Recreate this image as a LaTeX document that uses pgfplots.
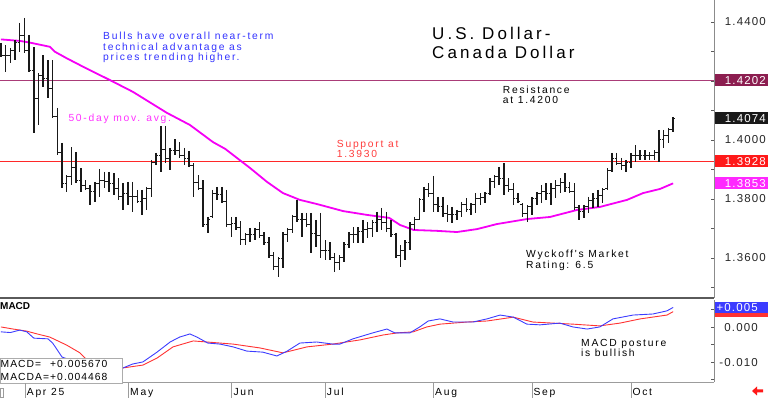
\documentclass[border=0pt]{standalone}
\usepackage{fontspec}
\setmainfont{Liberation Sans}
\newfontfamily\lsfont{Liberation Sans}[LetterSpace=17]
\newfontfamily\lbfont{Liberation Sans}[LetterSpace=10]
\newfontfamily\ttlfont{Liberation Sans}[LetterSpace=18]
\usepackage{pgfplots}
\usepackage{pgfplotstable}
\pgfplotsset{compat=1.18}
\definecolor{barc}{RGB}{25,25,25}
\definecolor{magc}{RGB}{245,0,245}
\definecolor{magt}{RGB}{255,50,255}
\definecolor{bluet}{RGB}{50,50,255}
\definecolor{redt}{RGB}{255,60,60}
\definecolor{suppline}{RGB}{255,40,40}
\definecolor{resline}{RGB}{170,60,120}
\definecolor{maroonb}{RGB}{140,30,80}
\definecolor{redb}{RGB}{255,25,25}
\definecolor{magb}{RGB}{255,40,255}
\definecolor{macdb}{RGB}{60,60,255}
\definecolor{macdr}{RGB}{255,50,50}
\definecolor{axc}{RGB}{90,90,90}
\newcommand\smallf{\lsfont\fontsize{10.3}{11}\selectfont}
\newcommand\labf{\lbfont\fontsize{11.5}{12}\selectfont}
\pgfdeclareplotmark{otick}{\pgfpathmoveto{\pgfqpoint{-2.2pt}{0pt}}\pgfpathlineto{\pgfqpoint{0pt}{0pt}}\pgfusepathqstroke}
\pgfdeclareplotmark{ctick}{\pgfpathmoveto{\pgfqpoint{0pt}{0pt}}\pgfpathlineto{\pgfqpoint{2.2pt}{0pt}}\pgfusepathqstroke}

\pgfplotstableread{
k h l o c
0 1.4329 1.4281 1.4305 1.4288
1 1.4322 1.4231 1.4288 1.4286
2 1.4312 1.4261 1.4286 1.4305
3 1.4339 1.4271 1.4305 1.4332
4 1.4397 1.4298 1.4332 1.4354
5 1.4414 1.4295 1.4354 1.4302
6 1.4356 1.4231 1.4302 1.4237
7 1.4315 1.4024 1.4237 1.4139
8 1.4227 1.4051 1.4139 1.4220
9 1.4288 1.4180 1.4220 1.4207
10 1.4271 1.4142 1.4207 1.4173
11 1.4271 1.4075 1.4173 1.4081
12 1.4109 1.3949 1.4081 1.3956
13 1.3990 1.3837 1.3956 1.3853
14 1.3881 1.3824 1.3853 1.3875
15 1.3976 1.3847 1.3875 1.3907
16 1.3959 1.3854 1.3907 1.3864
17 1.3905 1.3824 1.3864 1.3847
18 1.3864 1.3830 1.3847 1.3837
19 1.3847 1.3780 1.3837 1.3824
20 1.3858 1.3790 1.3824 1.3851
21 1.3902 1.3807 1.3851 1.3864
22 1.3892 1.3837 1.3864 1.3858
23 1.3892 1.3824 1.3858 1.3851
24 1.3888 1.3814 1.3851 1.3834
25 1.3871 1.3797 1.3834 1.3809
26 1.3854 1.3763 1.3809 1.3819
27 1.3858 1.3780 1.3819 1.3807
28 1.3858 1.3756 1.3807 1.3809
29 1.3831 1.3786 1.3809 1.3793
30 1.3831 1.3746 1.3793 1.3802
31 1.3841 1.3763 1.3802 1.3834
32 1.3932 1.3807 1.3834 1.3925
33 1.3956 1.3915 1.3925 1.3949
34 1.4048 1.3892 1.3949 1.3968
35 1.4048 1.3922 1.3968 1.3936
36 1.3973 1.3898 1.3936 1.3966
37 1.4003 1.3949 1.3966 1.3966
38 1.3993 1.3939 1.3966 1.3946
39 1.3973 1.3915 1.3946 1.3936
40 1.3963 1.3909 1.3936 1.3915
41 1.3922 1.3807 1.3915 1.3856
42 1.3881 1.3831 1.3856 1.3837
43 1.3864 1.3705 1.3837 1.3712
44 1.3739 1.3685 1.3712 1.3732
45 1.3831 1.3736 1.3739 1.3819
46 1.3841 1.3797 1.3819 1.3814
47 1.3841 1.3786 1.3814 1.3793
48 1.3831 1.3705 1.3793 1.3712
49 1.3739 1.3671 1.3712 1.3717
50 1.3739 1.3695 1.3717 1.3702
51 1.3725 1.3644 1.3702 1.3664
52 1.3685 1.3644 1.3664 1.3678
53 1.3702 1.3654 1.3678 1.3681
54 1.3702 1.3661 1.3681 1.3695
55 1.3722 1.3668 1.3695 1.3675
56 1.3688 1.3644 1.3675 1.3651
57 1.3671 1.3600 1.3651 1.3607
58 1.3620 1.3559 1.3607 1.3570
59 1.3603 1.3536 1.3570 1.3597
60 1.3688 1.3566 1.3597 1.3678
61 1.3702 1.3654 1.3678 1.3695
62 1.3746 1.3685 1.3695 1.3739
63 1.3797 1.3722 1.3739 1.3729
64 1.3753 1.3671 1.3729 1.3729
65 1.3753 1.3705 1.3729 1.3712
66 1.3753 1.3617 1.3712 1.3683
67 1.3729 1.3637 1.3683 1.3676
68 1.3753 1.3600 1.3676 1.3627
69 1.3661 1.3593 1.3627 1.3624
70 1.3654 1.3593 1.3624 1.3600
71 1.3617 1.3553 1.3600 1.3585
72 1.3610 1.3559 1.3585 1.3603
73 1.3654 1.3586 1.3603 1.3647
74 1.3688 1.3634 1.3647 1.3678
75 1.3705 1.3651 1.3678 1.3678
76 1.3705 1.3651 1.3678 1.3690
77 1.3729 1.3651 1.3690 1.3695
78 1.3722 1.3668 1.3695 1.3700
79 1.3729 1.3671 1.3700 1.3722
80 1.3756 1.3688 1.3722 1.3732
81 1.3770 1.3695 1.3732 1.3722
82 1.3756 1.3688 1.3722 1.3700
83 1.3729 1.3671 1.3700 1.3678
84 1.3685 1.3600 1.3678 1.3607
85 1.3644 1.3570 1.3607 1.3627
86 1.3661 1.3593 1.3627 1.3654
87 1.3722 1.3627 1.3654 1.3715
88 1.3739 1.3695 1.3715 1.3732
89 1.3803 1.3729 1.3732 1.3797
90 1.3841 1.3756 1.3797 1.3831
91 1.3854 1.3807 1.3831 1.3817
92 1.3878 1.3756 1.3817 1.3781
93 1.3807 1.3756 1.3781 1.3773
94 1.3807 1.3739 1.3773 1.3751
95 1.3780 1.3722 1.3751 1.3746
96 1.3773 1.3719 1.3746 1.3746
97 1.3763 1.3729 1.3746 1.3756
98 1.3790 1.3739 1.3756 1.3780
99 1.3803 1.3756 1.3780 1.3766
100 1.3786 1.3746 1.3766 1.3780
101 1.3820 1.3753 1.3780 1.3800
102 1.3820 1.3780 1.3800 1.3805
103 1.3824 1.3786 1.3805 1.3817
104 1.3871 1.3814 1.3817 1.3859
105 1.3881 1.3837 1.3859 1.3875
106 1.3909 1.3847 1.3875 1.3868
107 1.3922 1.3814 1.3868 1.3847
108 1.3871 1.3824 1.3847 1.3831
109 1.3854 1.3780 1.3831 1.3803
110 1.3820 1.3786 1.3803 1.3793
111 1.3786 1.3739 1.3783 1.3751
112 1.3780 1.3722 1.3751 1.3773
113 1.3807 1.3746 1.3773 1.3800
114 1.3824 1.3780 1.3800 1.3817
115 1.3847 1.3786 1.3817 1.3825
116 1.3854 1.3797 1.3825 1.3817
117 1.3854 1.3780 1.3817 1.3834
118 1.3864 1.3803 1.3834 1.3846
119 1.3871 1.3820 1.3846 1.3856
120 1.3888 1.3824 1.3856 1.3839
121 1.3858 1.3820 1.3839 1.3827
122 1.3854 1.3763 1.3827 1.3770
123 1.3780 1.3729 1.3770 1.3758
124 1.3780 1.3736 1.3758 1.3773
125 1.3807 1.3753 1.3773 1.3795
126 1.3820 1.3770 1.3795 1.3802
127 1.3831 1.3773 1.3802 1.3812
128 1.3837 1.3786 1.3812 1.3831
129 1.3905 1.3831 1.3834 1.3898
130 1.3956 1.3892 1.3898 1.3936
131 1.3956 1.3915 1.3936 1.3922
132 1.3939 1.3898 1.3922 1.3912
133 1.3932 1.3892 1.3912 1.3925
134 1.3956 1.3905 1.3925 1.3949
135 1.3983 1.3925 1.3949 1.3949
136 1.3966 1.3932 1.3949 1.3949
137 1.3966 1.3932 1.3949 1.3946
138 1.3959 1.3932 1.3946 1.3949
139 1.3966 1.3932 1.3949 1.3959
140 1.4034 1.3925 1.3959 1.4003
141 1.4034 1.3973 1.4003 1.4015
142 1.4041 1.3990 1.4015 1.4034
143 1.4078 1.4027 1.4034 1.4074
}\ohlc

\pgfplotstableread{
k v
0 1.4341
4 1.4336
6.2 1.4330
10.4 1.4316
11.5 1.4299
14 1.4277
17.4 1.4249
23.2 1.4203
28.1 1.4163
35.3 1.4092
40.2 1.4051
45.1 1.3993
47.7 1.3970
53 1.3905
56.6 1.3858
60 1.3820
63.6 1.3797
67.2 1.3783
72.8 1.3759
77.9 1.3746
82.6 1.3736
84.9 1.3712
87.8 1.3695
92.8 1.3692
97 1.3688
101.3 1.3698
105.5 1.3715
111.9 1.3732
116.8 1.3739
122.6 1.3763
127.4 1.3773
133.2 1.3797
136.6 1.3820
140.2 1.3834
143 1.3853
}\ma

\pgfplotstableread{
k v
0 -0.0013
2 -0.0015
4 -0.0008
5.5 -0.0013
7 -0.0031
10 -0.0033
11 -0.0045
13 -0.0085
14.7 -0.0093
17.9 -0.0111
21 -0.0125
24.3 -0.0125
26 -0.0116
28 -0.0105
30.2 -0.0099
33.2 -0.0071
36 -0.0042
38 -0.0028
40.2 -0.0019
41.7 -0.0028
44 -0.0045
46.6 -0.0048
49.4 -0.0056
52.3 -0.0068
55.7 -0.0071
58.7 -0.0082
60.9 -0.0068
63.6 -0.0045
67.2 -0.0042
70.6 -0.0048
72.1 -0.0048
74.9 -0.0033
79.1 -0.0016
82.1 -0.0005
83.8 -0.0016
87 -0.0016
89.1 0.0001
90.9 0.0018
93.4 0.0024
96.2 0.0015
100.4 0.0015
103.4 0.0024
106.2 0.0035
109 0.0029
111.9 0.0009
114.7 0.0007
118.9 0.0012
121.7 0.0001
124.7 -0.0005
127.4 0.0001
130.2 0.0024
134.5 0.0035
138.7 0.0038
141.7 0.0047
143 0.00567
}\macd

\pgfplotstableread{
k v
0 0.0001
2.6 -0.0005
5.5 -0.0011
7.7 -0.0019
10.4 -0.0028
14 -0.0051
16.8 -0.0073
17.9 -0.0088
21 -0.0108
24.3 -0.0117
26 -0.0116
30.2 -0.0108
33.2 -0.0088
36.6 -0.0056
40.9 -0.0039
43.8 -0.0042
49.4 -0.0048
55.1 -0.0059
60 -0.0073
65.1 -0.0056
70.6 -0.0048
76.4 -0.0036
81.3 -0.0022
84.3 -0.0016
87.7 -0.0013
90.6 0.0001
93.4 0.0009
99.1 0.0015
103.4 0.0018
109 0.0029
113.2 0.0015
117.4 0.0012
121.7 0.0009
127.4 0.0004
131.7 0.0012
136 0.0024
141.7 0.0035
143 0.004468
}\macda

\begin{document}
\begin{tikzpicture}[x=1pt,y=1pt]
\path (0,0) rectangle (768,398);

% ---------------- price panel ----------------
\begin{axis}[
  at={(0pt,100pt)}, anchor=south west, scale only axis,
  width=714pt, height=298pt,
  xmin=-0.2, xmax=151.7, ymin=1.34644, ymax=1.44746,
  axis x line*=bottom, axis y line*=right,
  x axis line style={draw=axc, line width=2pt},
  y axis line style={draw=axc!70, line width=0.8pt},
  xtick=\empty,
  ytick={1.35,1.36,1.37,1.38,1.39,1.40,1.41,1.42,1.43,1.44},
  yticklabels={,1.3600,,1.3800,,1.4000,,,,1.4400},
  scaled y ticks=false,
  tick align=inside, major tick length=3pt,
  ytick style={draw=axc, line width=0.6pt},
  yticklabel style={anchor=east, inner sep=0pt, xshift=52pt, font=\labf, text=black!85},
  clip=false,
]
\draw[resline, line width=1pt] (axis cs:-0.2,1.4202) -- (axis cs:151.7,1.4202);
\draw[suppline, line width=1.1pt] (axis cs:-0.2,1.3928) -- (axis cs:151.7,1.3928);
\addplot[color=magc, draw=magc, line width=1.8pt, mark=none] table[x=k,y=v] {\ma};
\addplot[draw=none, mark=none, error bars/.cd, y dir=minus, y explicit, error mark=none,
  error bar style={draw=barc, line width=1.5pt}]
  table[x=k, y=h, y error expr=\thisrow{h}-\thisrow{l}] {\ohlc};
\addplot[only marks, mark=otick, barc, mark options={line width=1pt}] table[x=k,y=o] {\ohlc};
\addplot[only marks, mark=ctick, barc, mark options={line width=1pt}] table[x=k,y=c] {\ohlc};
% value boxes
\fill[maroonb] ([xshift=1pt,yshift=-6pt]axis cs:151.7,1.4202) rectangle ++(53pt,12pt);
\node[anchor=east, inner sep=0pt, text=white, font=\labf] at ([xshift=52pt]axis cs:151.7,1.4202) {1.4202};
\fill[black!90] ([xshift=1pt,yshift=-6pt]axis cs:151.7,1.4074) rectangle ++(53pt,12pt);
\node[anchor=east, inner sep=0pt, text=white, font=\labf] at ([xshift=52pt]axis cs:151.7,1.4074) {1.4074};
\fill[redb] ([xshift=1pt,yshift=-6pt]axis cs:151.7,1.3928) rectangle ++(53pt,12pt);
\node[anchor=east, inner sep=0pt, text=white, font=\labf] at ([xshift=52pt]axis cs:151.7,1.3928) {1.3928};
\fill[magb] ([xshift=1pt,yshift=-6pt]axis cs:151.7,1.3853) rectangle ++(53pt,12pt);
\node[anchor=east, inner sep=0pt, text=white, font=\labf] at ([xshift=52pt]axis cs:151.7,1.3853) {1.3853};
\end{axis}

% ---------------- MACD panel ----------------
\begin{axis}[
  at={(0pt,16pt)}, anchor=south west, scale only axis,
  width=714pt, height=82pt,
  xmin=-0.2, xmax=151.7, ymin=-0.01563, ymax=0.0078,
  axis x line*=bottom, axis y line*=right,
  x axis line style={draw=axc!60, line width=0.8pt},
  y axis line style={draw=axc!70, line width=0.8pt},
  xtick=\empty,
  ytick={-0.015,-0.01,-0.005,0,0.005},
  yticklabels={,-0.010,,0.000,},
  scaled y ticks=false,
  tick align=inside, major tick length=3pt,
  ytick style={draw=axc, line width=0.6pt},
  yticklabel style={anchor=east, inner sep=0pt, xshift=44pt, font=\labf, text=black!85},
  clip=false,
]
\addplot[color=macdr, draw=macdr, line width=0.9pt, mark=none] table[x=k,y=v] {\macda};
\addplot[color=macdb, draw=macdb, line width=0.9pt, mark=none] table[x=k,y=v] {\macd};
\fill[macdr] ([xshift=1pt,yshift=-5.5pt]axis cs:151.7,0.004468) rectangle ++(53pt,11pt);
\fill[macdb] ([xshift=1pt,yshift=-5.5pt]axis cs:151.7,0.00567) rectangle ++(53pt,11pt);
\node[anchor=east, inner sep=0pt, text=white, font=\labf] at ([xshift=44pt]axis cs:151.7,0.00567) {+0.005};
\end{axis}

% ---------------- annotations ----------------
\node[anchor=base west, inner sep=0pt, font=\ttlfont\fontsize{17}{18}\selectfont] at (432,358) {U.S. Dollar-};
\node[anchor=base west, inner sep=0pt, font=\ttlfont\fontsize{17}{18}\selectfont] at (432,339) {Canada Dollar};

\node[anchor=base west, inner sep=0pt, text=bluet, font=\smallf] at (103,358.7) {Bulls have overall near-term};
\node[anchor=base west, inner sep=0pt, text=bluet, font=\smallf] at (103,347.9) {technical advantage as};
\node[anchor=base west, inner sep=0pt, text=bluet, font=\smallf] at (103,337) {prices trending higher.};

\node[anchor=base west, inner sep=0pt, text=magt, font=\smallf] at (68.3,276.3) {50-day mov. avg.};
\node[anchor=base west, inner sep=0pt, text=redt, font=\smallf] at (336.7,250.7) {Support at};
\node[anchor=base west, inner sep=0pt, text=redt, font=\smallf] at (336.7,240.7) {1.3930};
\node[anchor=base west, inner sep=0pt, font=\smallf] at (502.7,304.7) {Resistance};
\node[anchor=base west, inner sep=0pt, font=\smallf] at (502.7,294.7) {at 1.4200};
\node[anchor=base west, inner sep=0pt, font=\smallf] at (526,140.7) {Wyckoff's Market};
\node[anchor=base west, inner sep=0pt, font=\smallf] at (526,129.7) {Rating: 6.5};
\node[anchor=base west, inner sep=0pt, font=\smallf] at (581,51.3) {MACD posture};
\node[anchor=base west, inner sep=0pt, font=\smallf] at (581,41.3) {is bullish};

\node[anchor=base west, inner sep=0pt, font=\bfseries\fontsize{10}{11}\selectfont] at (0,88) {MACD};

\draw[axc!50, fill=white, line width=0.8pt] (0.4,14.7) rectangle (122.7,39.7);
\node[anchor=base west, inner sep=0pt, font=\lbfont\fontsize{10.3}{11}\selectfont] at (0.5,30.2) {MACD=};
\node[anchor=base west, inner sep=0pt, font=\lbfont\fontsize{10.3}{11}\selectfont] at (0.5,17.6) {MACDA=};
\node[anchor=base west, inner sep=0pt, font=\lbfont\fontsize{10.3}{11}\selectfont] at (50,30.2) {+0.005670};
\node[anchor=base west, inner sep=0pt, font=\lbfont\fontsize{10.3}{11}\selectfont] at (50,17.6) {+0.004468};

% month separators and labels
\foreach \xx in {25,128,231.7,325,433.3,532,631} {\draw[axc!60, line width=0.7pt] (\xx,0.4) -- (\xx,15);}
\draw[axc!60, line width=0.7pt] (0.4,0.4) rectangle (3,10);
\node[anchor=base west, inner sep=0pt, font=\smallf] at (26.7,2.5) {Apr 25};
\node[anchor=base west, inner sep=0pt, font=\smallf] at (130,2.5) {May};
\node[anchor=base west, inner sep=0pt, font=\smallf] at (233.3,2.5) {Jun};
\node[anchor=base west, inner sep=0pt, font=\smallf] at (326.7,2.5) {Jul};
\node[anchor=base west, inner sep=0pt, font=\smallf] at (435,2.5) {Aug};
\node[anchor=base west, inner sep=0pt, font=\smallf] at (533.3,2.5) {Sep};
\node[anchor=base west, inner sep=0pt, font=\smallf] at (632.3,2.5) {Oct};
\fill[redb] (752,7) -- (757,11.5) -- (757,8.5) -- (763,8.5) -- (763,5.5) -- (757,5.5) -- (757,2.5) -- cycle;
\pgfresetboundingbox
\path[use as bounding box] (0,0) rectangle (768,398);
\end{tikzpicture}
\end{document}
